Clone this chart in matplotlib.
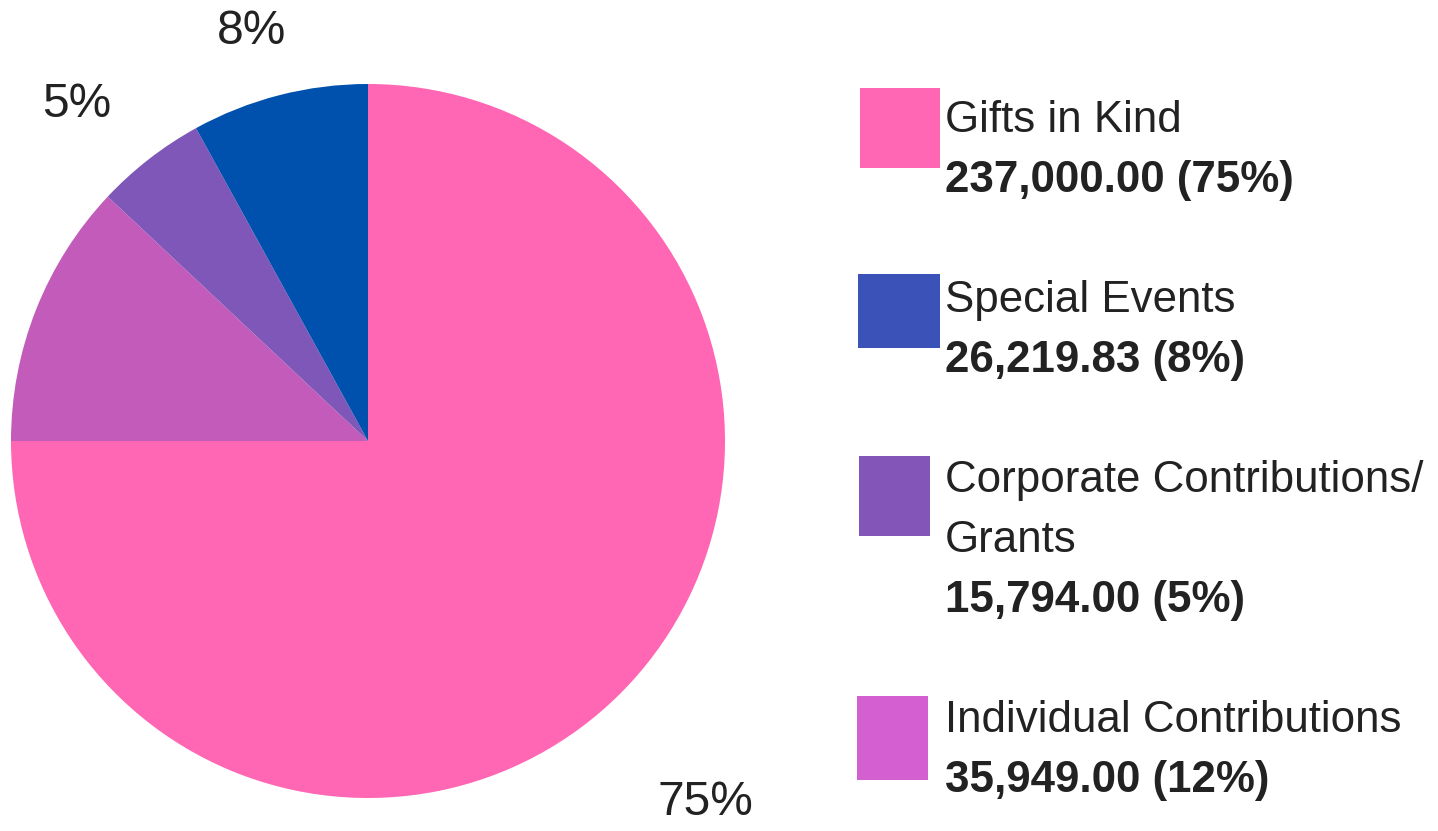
import matplotlib
matplotlib.use('Agg')
import matplotlib.pyplot as plt
from matplotlib.patches import Rectangle

plt.rcParams['font.family'] = ['Liberation Sans', 'DejaVu Sans']

# data
categories = ['Gifts in Kind', 'Special Events', 'Corporate Contributions/\nGrants', 'Individual Contributions']
amounts = [237000.00, 26219.83, 15794.00, 35949.00]
percents = [75, 8, 5, 12]  # as printed on the chart; the pie is drawn from these
pie_colors = ['#ff66b3', '#0050ad', '#7f57b9', '#c25bba']
legend_colors = ['#ff66b3', '#3b52b8', '#8355b8', '#d35fd0']
pie_order = [0, 3, 2, 1]  # clockwise from 12 o'clock
shown_labels = [0, 1, 2]  # the 12% label is not drawn in the reference
label_xy = {0: (0.944, -1.012), 1: (-0.325, 1.147), 2: (-0.815, 0.942)}

text_color = '#222222'

fig = plt.figure(figsize=(14.38, 8.31), dpi=100)

# pie
ax = fig.add_axes([11 / 1438, 33 / 831, 714 / 1438, 714 / 831])
ax.pie([percents[i] for i in pie_order], colors=[pie_colors[i] for i in pie_order],
       startangle=90, counterclock=False, radius=1.0,
       wedgeprops=dict(linewidth=0))
ax.set_xlim(-1, 1)
ax.set_ylim(-1, 1)
ax.set_aspect('equal')
ax.axis('off')

for i in shown_labels:
    x, y = label_xy[i]
    ax.text(x, y, '%d%%' % percents[i], ha='center', va='center', fontsize=34.5,
            color=text_color, clip_on=False)

# legend drawn in pixel coordinates
lg = fig.add_axes([0, 0, 1, 1])
lg.set_xlim(0, 1438)
lg.set_ylim(831, 0)
lg.axis('off')
lg.patch.set_alpha(0)

boxes = [(860, 88, 80, 80), (858, 274, 82, 74), (859, 456, 71, 80), (857, 696, 71, 84)]
first_base = [132, 312, 492, 732]
line_h = 60
for i, name in enumerate(categories):
    bx, by, bw, bh = boxes[i]
    lg.add_patch(Rectangle((bx, by), bw, bh, facecolor=legend_colors[i], edgecolor='none'))
    lines = name.split('\n')
    base = first_base[i]
    for k, ln in enumerate(lines):
        lg.text(945, base + k * line_h, ln, fontsize=31.6, color=text_color, va='baseline', ha='left')
    lg.text(945, base + len(lines) * line_h, '{:,.2f} ({}%)'.format(amounts[i], percents[i]),
            fontsize=31.6, fontweight='bold', color=text_color, va='baseline', ha='left')

fig.savefig('out.png', dpi=100, facecolor='white')
plt.close()
